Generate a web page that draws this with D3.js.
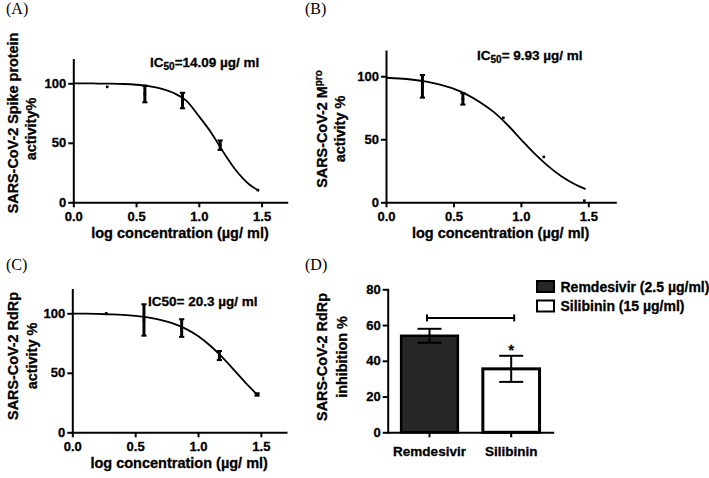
<!DOCTYPE html>
<html><head><meta charset="utf-8">
<script src="https://cdn.jsdelivr.net/npm/d3@7/dist/d3.min.js"></script>
<style>
html,body{margin:0;padding:0;background:#fff;}
svg{display:block;}
text{font-family:"Liberation Sans",Arial,sans-serif;font-weight:bold;fill:#000;stroke:#000;stroke-width:0.3px;}
.plabel{font-family:"Liberation Serif","Times New Roman",serif;font-weight:normal;font-size:16px;stroke:none;}
</style></head>
<body>
<svg id="c" width="709" height="478"></svg>
<script>
// ---------- data ----------
const logConc = [0.27, 0.57, 0.87, 1.17, 1.47];
const spikeMean = [97, 91, 85.5, 48, 10.3];
const spikeErr  = [0, 7, 6.5, 4, 0];
const mproMean  = [92, 82, 67, 36, 1.3];
const mproErr   = [9, 4.5, 0, 0, 0];
const rdrpMean  = [100, 94.4, 87.6, 64.5, 31.8];
const rdrpErr   = [0, 13.2, 7.4, 3.8, 1];
const fitX      = [0, 0.1, 0.2, 0.3, 0.4, 0.5, 0.6, 0.7, 0.8, 0.9, 1.0, 1.1, 1.2, 1.3, 1.4, 1.48];
const spikeFit  = [99.9, 99.9, 99.8, 99.7, 99.4, 98.8, 97.7, 95.6, 91.8, 85.5, 72.5, 58.3, 41.4, 26.3, 15.2, 9.6];
const mproFit   = [98.8, 98.2, 97.2, 95.7, 93.4, 90.1, 85.4, 79.2, 71.5, 61.5, 50.0, 38.8, 28.9, 20.6, 14.3, 10.5];
const rdrpFit   = [99.8, 99.7, 99.5, 99.1, 98.6, 97.8, 96.5, 94.5, 91.5, 87.1, 80.9, 72.5, 62.3, 50.8, 39.2, 30.7];
const xTicks = [0, 0.5, 1.0, 1.5];
const yTicks = [0, 50, 100];
const barCats  = ["Remdesivir", "Silibinin"];
const barMeans = [54, 35.5];
const barErr   = [3.9, 7.3];
const barTicks = [0, 20, 40, 60, 80];
const legendLabels = ["Remdesivir (2.5 \u00b5g/ml)", "Silibinin (15 \u00b5g/ml)"];
const sigBracketY = 64;

const svg = d3.select("#c");
svg.append("rect").attr("width",709).attr("height",478).attr("fill","#fff");

function styleAxis(g){
  g.selectAll("path.domain").attr("stroke","#000").attr("stroke-width",2).attr("stroke-linecap","square");
  g.selectAll(".tick line").attr("stroke","#000").attr("stroke-width",2);
  g.selectAll(".tick text").attr("font-size",13).attr("font-family","'Liberation Sans',Arial,sans-serif")
    .attr("font-weight","bold").attr("fill","#000").attr("stroke","#000").attr("stroke-width",0.3);
}

function ylabel(lines, cy){
  lines.forEach((l,i)=>{
    const t = svg.append("text").attr("transform",`translate(${l.x},${l.cy||cy}) rotate(-90)`)
      .attr("text-anchor","middle").attr("dy","0.35em").attr("font-size",14.4);
    l.parts.forEach(p=>{
      const ts = t.append("tspan").text(p.t);
      if(p.sup){ ts.attr("font-size",10).attr("dy","-5"); }
    });
  });
}

function curvePanel(o){
  const x = d3.scaleLinear().domain([0,1.7]).range(o.xr);
  const y = d3.scaleLinear().domain([0,120]).range(o.yr);
  const g = svg.append("g");
  const ax = g.append("g").attr("transform",`translate(0,${o.yr[0]})`)
    .call(d3.axisBottom(x).tickValues(xTicks).tickFormat(d3.format(".1f")).tickSize(5).tickPadding(4).tickSizeOuter(0));
  styleAxis(ax);
  const ay = g.append("g").attr("transform",`translate(${o.xr[0]},0)`)
    .call(d3.axisLeft(y).tickValues(yTicks).tickSize(5).tickPadding(2).tickSizeOuter(0));
  styleAxis(ay);
  // fit curve
  g.append("path").datum(fitX.map((v,i)=>[v,o.fit[i]]))
    .attr("d", d3.line().x(d=>x(d[0])).y(d=>y(d[1])).curve(d3.curveMonotoneX))
    .attr("fill","none").attr("stroke","#000").attr("stroke-width",1.8);
  // error bars
  logConc.forEach((c,i)=>{
    const m = o.mean[i], e = o.err[i];
    if(e>0){
      g.append("line").attr("x1",x(c)).attr("x2",x(c)).attr("y1",y(m-e)).attr("y2",y(m+e))
        .attr("stroke","#000").attr("stroke-width",3);
      [m-e,m+e].forEach(v=>g.append("line").attr("x1",x(c)-2.6).attr("x2",x(c)+2.6).attr("y1",y(v)).attr("y2",y(v))
        .attr("stroke","#000").attr("stroke-width",2));
    }
    g.append("rect").attr("x",x(c)-1.3).attr("y",y(m)-1.3).attr("width",2.6).attr("height",2.6).attr("fill","#000");
  });
  // x title
  svg.append("text").attr("x",(o.xr[0]+o.xr[1])/2).attr("y",o.yr[0]+36).attr("text-anchor","middle")
    .attr("font-size",14.5).text("log concentration (\u00b5g/ ml)");
  // IC50
  const t = svg.append("text").attr("x",o.icx).attr("y",o.icy).attr("font-size",13.5);
  o.ic.forEach(p=>{
    const ts = t.append("tspan").text(p.t);
    if(p.sub){ ts.attr("font-size",10).attr("dy",3); }
    if(p.after){ ts.attr("dy",-3); }
  });
}

curvePanel({xr:[73.3,286.7], yr:[202.3,59.5], mean:spikeMean, err:spikeErr, fit:spikeFit,
  icx:150, icy:67, ic:[{t:"IC"},{t:"50",sub:true},{t:"=14.09 \u00b5g/ ml",after:true}]});
curvePanel({xr:[386,615.3], yr:[202.3,51], mean:mproMean, err:mproErr, fit:mproFit,
  icx:477, icy:60, ic:[{t:"IC"},{t:"50",sub:true},{t:"= 9.93 \u00b5g/ ml",after:true}]});
curvePanel({xr:[72.3,286], yr:[432.3,289.5], mean:rdrpMean, err:rdrpErr, fit:rdrpFit,
  icx:148, icy:306, ic:[{t:"IC50= 20.3 \u00b5g/ ml"}]});

ylabel([{x:13,cy:123,parts:[{t:"SARS-CoV-2 Spike protein"}]},{x:31,cy:129,parts:[{t:"activity%"}]}],126);
ylabel([{x:322,parts:[{t:"SARS-CoV-2 M"},{t:"pro",sup:true}]},{x:340,parts:[{t:"activity %"}]}],129);
ylabel([{x:13,parts:[{t:"SARS-CoV-2 RdRp"}]},{x:32,parts:[{t:"activity %"}]}],356);
ylabel([{x:322,parts:[{t:"SARS-CoV-2 RdRp"}]},{x:342,parts:[{t:"inhibition %"}]}],357);

// ---------- bar panel ----------
{
  const x = d3.scaleBand().domain(barCats).range([388,552.7]).paddingInner(0.306).paddingOuter(0.161);
  const y = d3.scaleLinear().domain([0,80]).range([432.3,289.3]);
  const g = svg.append("g");
  barCats.forEach((c,i)=>{
    g.append("rect").attr("x",x(c)).attr("y",y(barMeans[i])).attr("width",x.bandwidth())
      .attr("height",y(0)-y(barMeans[i])).attr("fill",i===0?"#262626":"#fff")
      .attr("stroke","#000").attr("stroke-width",i===0?2.5:3);
    const cx = x(c)+x.bandwidth()/2, m=barMeans[i], e=barErr[i];
    g.append("line").attr("x1",cx).attr("x2",cx).attr("y1",y(m-e)).attr("y2",y(m+e)).attr("stroke","#000").attr("stroke-width",2);
    [m-e,m+e].forEach(v=>g.append("line").attr("x1",cx-12).attr("x2",cx+12).attr("y1",y(v)).attr("y2",y(v)).attr("stroke","#000").attr("stroke-width",2));
  });
  const ax = g.append("g").attr("transform",`translate(0,${y(0)})`)
    .call(d3.axisBottom(x).tickSize(5).tickPadding(9).tickSizeOuter(0));
  styleAxis(ax);
  ax.selectAll(".tick text").attr("font-size",13.5);
  const ay = g.append("g").attr("transform",`translate(${387.7},0)`)
    .call(d3.axisLeft(y).tickValues(barTicks).tickSize(5).tickPadding(2).tickSizeOuter(0));
  styleAxis(ay);
  // significance bracket
  const c0 = x(barCats[0])+x.bandwidth()/2-2.5, c1 = x(barCats[1])+x.bandwidth()/2+3;
  const by = y(sigBracketY);
  g.append("line").attr("x1",c0).attr("x2",c1).attr("y1",by).attr("y2",by).attr("stroke","#000").attr("stroke-width",2);
  [c0,c1].forEach(cx=>g.append("line").attr("x1",cx).attr("x2",cx).attr("y1",by-3.5).attr("y2",by+3.5).attr("stroke","#000").attr("stroke-width",2));
  g.append("text").attr("x",x(barCats[1])+x.bandwidth()/2).attr("y",y(barMeans[1]+barErr[1])-0.5)
    .attr("text-anchor","middle").attr("font-size",14).text("*");
  // legend
  const lg = svg.append("g");
  legendLabels.forEach((l,i)=>{
    lg.append("rect").attr("x",537).attr("y",281+i*19.5).attr("width",17).attr("height",11)
      .attr("fill",i===0?"#262626":"#fff").attr("stroke","#000").attr("stroke-width",2);
    lg.append("text").attr("x",560.5).attr("y",292+i*19).attr("font-size",14).text(l);
  });
}

// panel labels
[["(A)",6,14],["(B)",305,14],["(C)",6,270],["(D)",305,270]].forEach(p=>{
  svg.append("text").attr("class","plabel").attr("x",p[1]).attr("y",p[2]).text(p[0]);
});
</script>
</body></html>
